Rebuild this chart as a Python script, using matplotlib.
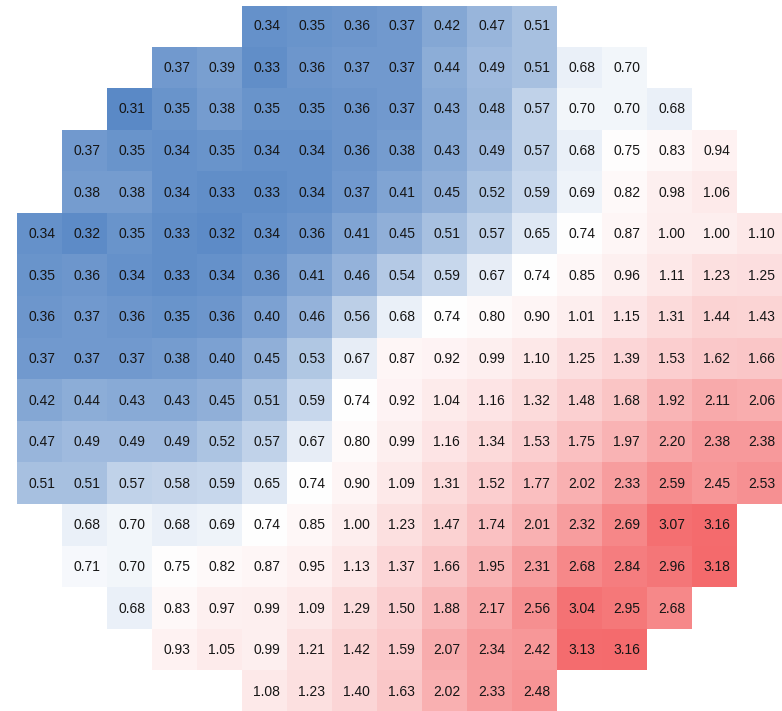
import numpy as np
import matplotlib
matplotlib.use("Agg")
import matplotlib.pyplot as plt
from matplotlib.colors import LinearSegmentedColormap, TwoSlopeNorm

plt.rcParams['font.family'] = ['Liberation Sans', 'DejaVu Sans']

n = None
# one list per row of the wafer map, None = no die
row_00 = [n, n, n, n, n, 0.34, 0.35, 0.36, 0.37, 0.42, 0.47, 0.51, n, n, n, n, n]
row_01 = [n, n, n, 0.37, 0.39, 0.33, 0.36, 0.37, 0.37, 0.44, 0.49, 0.51, 0.68, 0.70, n, n, n]
row_02 = [n, n, 0.31, 0.35, 0.38, 0.35, 0.35, 0.36, 0.37, 0.43, 0.48, 0.57, 0.70, 0.70, 0.68, n, n]
row_03 = [n, 0.37, 0.35, 0.34, 0.35, 0.34, 0.34, 0.36, 0.38, 0.43, 0.49, 0.57, 0.68, 0.75, 0.83, 0.94, n]
row_04 = [n, 0.38, 0.38, 0.34, 0.33, 0.33, 0.34, 0.37, 0.41, 0.45, 0.52, 0.59, 0.69, 0.82, 0.98, 1.06, n]
row_05 = [0.34, 0.32, 0.35, 0.33, 0.32, 0.34, 0.36, 0.41, 0.45, 0.51, 0.57, 0.65, 0.74, 0.87, 1.00, 1.00, 1.10]
row_06 = [0.35, 0.36, 0.34, 0.33, 0.34, 0.36, 0.41, 0.46, 0.54, 0.59, 0.67, 0.74, 0.85, 0.96, 1.11, 1.23, 1.25]
row_07 = [0.36, 0.37, 0.36, 0.35, 0.36, 0.40, 0.46, 0.56, 0.68, 0.74, 0.80, 0.90, 1.01, 1.15, 1.31, 1.44, 1.43]
row_08 = [0.37, 0.37, 0.37, 0.38, 0.40, 0.45, 0.53, 0.67, 0.87, 0.92, 0.99, 1.10, 1.25, 1.39, 1.53, 1.62, 1.66]
row_09 = [0.42, 0.44, 0.43, 0.43, 0.45, 0.51, 0.59, 0.74, 0.92, 1.04, 1.16, 1.32, 1.48, 1.68, 1.92, 2.11, 2.06]
row_10 = [0.47, 0.49, 0.49, 0.49, 0.52, 0.57, 0.67, 0.80, 0.99, 1.16, 1.34, 1.53, 1.75, 1.97, 2.20, 2.38, 2.38]
row_11 = [0.51, 0.51, 0.57, 0.58, 0.59, 0.65, 0.74, 0.90, 1.09, 1.31, 1.52, 1.77, 2.02, 2.33, 2.59, 2.45, 2.53]
row_12 = [n, 0.68, 0.70, 0.68, 0.69, 0.74, 0.85, 1.00, 1.23, 1.47, 1.74, 2.01, 2.32, 2.69, 3.07, 3.16, n]
row_13 = [n, 0.71, 0.70, 0.75, 0.82, 0.87, 0.95, 1.13, 1.37, 1.66, 1.95, 2.31, 2.68, 2.84, 2.96, 3.18, n]
row_14 = [n, n, 0.68, 0.83, 0.97, 0.99, 1.09, 1.29, 1.50, 1.88, 2.17, 2.56, 3.04, 2.95, 2.68, n, n]
row_15 = [n, n, n, 0.93, 1.05, 0.99, 1.21, 1.42, 1.59, 2.07, 2.34, 2.42, 3.13, 3.16, n, n, n]
row_16 = [n, n, n, n, n, 1.08, 1.23, 1.40, 1.63, 2.02, 2.33, 2.48, n, n, n, n, n]

rows = [row_00, row_01, row_02, row_03, row_04, row_05, row_06, row_07, row_08,
        row_09, row_10, row_11, row_12, row_13, row_14, row_15, row_16]
grid = np.array(rows, dtype=float)

cmap = LinearSegmentedColormap.from_list("bwr_soft", ["#5a89c6", "#ffffff", "#f46a6c"])
cmap.set_bad("white")
norm = TwoSlopeNorm(vmin=np.nanmin(grid), vcenter=0.73, vmax=np.nanmax(grid))

fig = plt.figure(figsize=(7.82, 7.11), dpi=100)
ax = fig.add_axes([17 / 782, -1.5 / 711, 765 / 782, 707 / 711])
ax.imshow(np.ma.masked_invalid(grid), cmap=cmap, norm=norm,
          aspect='auto', interpolation='nearest')

for i in range(grid.shape[0]):
    for j in range(grid.shape[1]):
        v = grid[i, j]
        if np.isnan(v):
            continue
        ax.text(j + 0.05, i, f"{v:.2f}", ha='center', va='center',
                fontsize=10, color='#151515')

ax.axis('off')
fig.savefig("out.png", dpi=100)
